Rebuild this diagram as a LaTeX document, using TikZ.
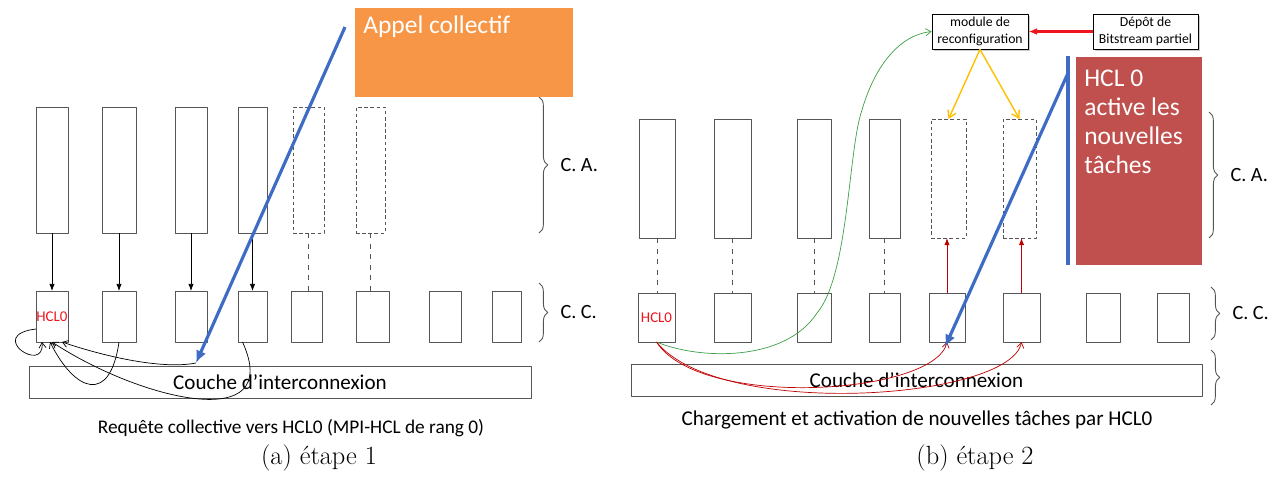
\documentclass[tikz,border=0pt]{standalone}
\usepackage{fontspec}
\newfontfamily\calibri{Carlito}
\usetikzlibrary{arrows.meta,calc,decorations.pathreplacing,shadows}
\definecolor{appelorange}{RGB}{247,150,70}
\definecolor{hclrouge}{RGB}{192,80,77}
\definecolor{bleuappel}{RGB}{62,108,196}
\definecolor{rougevif}{RGB}{240,20,30}
\definecolor{rougefonce}{RGB}{192,0,0}
\definecolor{vertmodule}{RGB}{60,160,70}
\definecolor{jaunefleche}{RGB}{255,192,0}
\definecolor{trait}{RGB}{85,85,85}
\newcommand{\accolade}[5]{%
  % #1 = x of the brace, #2 = top y, #3 = bottom y, #4 = name of the label, #5 = label
  \draw[accol] (#1,#2) -- (#1,#3) node[midway, right=12pt, etiq] (#4) {#5};
}
\tikzset{
  tache/.style={draw=trait, line width=0.5pt, fill=white, inner sep=0pt, outer sep=0pt},
  tachevide/.style={tache, dash pattern=on 2pt off 1.5pt},
  couche/.style={tache, font=\calibri\fontsize{12}{14}\selectfont},
  accol/.style={draw=trait, line width=0.5pt, decorate, decoration={brace, amplitude=5pt}},
  etiq/.style={inner sep=0pt, anchor=west, font=\calibri\fontsize{11.5}{13}\selectfont},
  hcl/.style={text=rougevif, inner sep=0pt, font=\calibri\fontsize{8.5}{10}\selectfont},
  legende/.style={inner sep=0pt, font=\calibri\fontsize{11}{13}\selectfont},
  sousfig/.style={inner sep=0pt, font=\fontsize{15}{17}\selectfont},
  fleche/.style={-{Latex[length=4pt,width=3pt]}, draw=black, line width=0.4pt},
  courbe/.style={-{Straight Barb[length=3pt,width=4pt]}, line width=0.4pt},
  liaison/.style={dashed, line width=0.4pt, draw=trait},
  appel/.style={draw=bleuappel, line width=1.8pt, -{Latex[length=7pt,width=6pt]}},
  petitbloc/.style={draw=black, line width=0.5pt, fill=white, align=center, inner sep=0pt,
    drop shadow={shadow xshift=1pt, shadow yshift=-1pt, opacity=.4},
    font=\calibri\fontsize{7.8}{9.5}\selectfont, minimum height=0.7cm},
}
\begin{document}
\begin{tikzpicture}[x=0.02cm, y=-0.02cm, >=Latex, line join=round]
\useasboundingbox (0,0) rectangle (1287,484);

% ============ (a) ETAPE 1 ============
% application tasks (C. A.), the last two not loaded yet
\foreach \n/\x/\w in {1/52/32, 2/119/34, 3/191/32, 4/252.5/29}
  \node[tache, minimum width=\w*0.02cm, minimum height=2.52cm] (La\n) at (\x,170) {};
\foreach \n/\x/\w in {5/308.5/31, 6/370.5/29}
  \node[tachevide, minimum width=\w*0.02cm, minimum height=2.52cm] (La\n) at (\x,170) {};
% communication cores (C. C.)
\foreach \n/\x/\w in {1/52/32, 2/119/34, 3/191/32, 4/252.5/29, 5/306.5/31, 6/372.5/33, 7/445/32, 8/506.5/29}
  \node[tache, minimum width=\w*0.02cm, minimum height=1.02cm] (Lc\n) at (\x,316.5) {};
\node[hcl] (Lhcl) at (Lc1) {HCL0};

\foreach \n in {1,...,4}
  \draw[fleche] (La\n.south) -- (La\n.south |- Lc\n.north);
\foreach \n in {5,6}
  \draw[liaison] (La\n.south) -- (La\n.south |- Lc\n.north);

\node[couche, minimum width=10.04cm, minimum height=0.64cm] (Lcouche) at (280,382) {Couche d’interconnexion};

\accolade{539}{97}{233}{LcaTxt}{C. A.}
\accolade{539}{283}{342}{LccTxt}{C. C.}

% requests going back to HCL0
\coordinate (Ltip) at (196,363);
\draw[courbe] ($(Lc1.south west)+(0,-13)$) .. controls (-15,335) and (45,375) .. ($(Lc1.south west)+(6,0)$);
\draw[courbe] (Lc2.south) .. controls (110,405) and (75,392) .. ($(Lc1.south)+(-2,0)$);
\draw[courbe] ($(Lc4.south)+(-10,0)$) .. controls (285,435) and (140,400) .. (Lc1.south);
\draw[courbe] (Ltip) .. controls (160,370) and (100,355) .. ($(Lc1.south)+(10,0)$);

% collective call
\node[fill=appelorange, minimum width=4.36cm, minimum height=1.78cm, inner sep=0pt] (appel) at (464,52.5) {};
\node[anchor=base west, text=white, inner sep=0pt, font=\calibri\fontsize{14.5}{17}\selectfont] (appelTxt) at (363,33) {Appel collectif};
\coordinate (LappelPt) at (345,27);
\draw[appel] (LappelPt) -- (Ltip);

\node[legende] (Llegende) at (291,428) {Requête collective vers HCL0 (MPI-HCL de rang 0)};
\node[sousfig] (Lsousfig) at (319,458) {(a) étape 1};

% ============ (b) ETAPE 2 ============
\foreach \n/\x/\w in {1/657/36, 2/732.5/37, 3/814/34, 4/884.5/31}
  \node[tache, minimum width=\w*0.02cm, minimum height=2.38cm] (Ra\n) at (\x,178.5) {};
\foreach \n/\x/\w in {5/948.5/35, 6/1019.5/33}
  \node[tachevide, minimum width=\w*0.02cm, minimum height=2.38cm] (Ra\n) at (\x,178.5) {};
\foreach \n/\x/\w in {1/656.5/37, 2/732.5/37, 3/814/34, 4/884.5/31, 5/947/36, 6/1021.5/37, 7/1103/34, 8/1173/32}
  \node[tache, minimum width=\w*0.02cm, minimum height=0.98cm] (Rc\n) at (\x,317.5) {};
\node[hcl] (Rhcl) at (Rc1) {HCL0};

\foreach \n in {1,...,4}
  \draw[liaison] (Ra\n.south) -- (Ra\n.south |- Rc\n.north);
\foreach \n in {5,6}
  \draw[rougefonce, line width=0.5pt, -{Latex[length=4pt,width=3pt]}] (Rc\n.north) -- (Rc\n.north |- Ra\n.south);

\node[couche, minimum width=11.42cm, minimum height=0.64cm] (Rcouche) at (916.5,380) {Couche d’interconnexion};

\accolade{1209}{112}{238}{RcaTxt}{C. A.}
\accolade{1211}{287}{340}{RccTxt}{C. C.}
\draw[accol] (1211,350) -- (1211,405);

% reconfiguration
\node[petitbloc, minimum width=1.92cm] (module) at (980,31.5) {module de\\reconfiguration};
\node[petitbloc, minimum width=2.1cm] (depot) at (1145.5,31.5) {Dépôt de\\Bitstream partiel};
\draw[rougevif, line width=1.3pt, -{Latex[length=5pt,width=4pt]}] (depot) -- (module);
\foreach \n in {5,6}
  \draw[jaunefleche, line width=0.8pt, -{Straight Barb[length=4pt,width=5pt]}] (module.south) -- (Ra\n.north);

\draw[vertmodule, courbe] (Rc1.south) .. controls (700,360) and (785,362) .. (817,313)
  .. controls (849,275) and (848,150) .. (862,110) .. controls (875,65) and (900,35) .. (module.west);
\draw[rougefonce, courbe] (Rc1.south) .. controls (700,410) and (935,395) .. (Rc5.south);
\draw[rougefonce, courbe] (Rc1.south) .. controls (720,420) and (1010,400) .. (Rc6.south);

% HCL 0 activates the new tasks
\node[fill=hclrouge, minimum width=2.52cm, minimum height=4.16cm, inner sep=0pt] (hclBox) at (1139,161) {};
\node[anchor=north west, text=white, align=left, inner sep=0pt, font=\calibri\fontsize{14.5}{16.5}\selectfont] (hclTxt) at (1084,70) {HCL 0\\active les\\nouvelles\\tâches};
\coordinate (barreHaut) at (1068,56);
\coordinate (barreBas) at (1068,265);
\coordinate (barreDep) at (1068,73);
\coordinate (Rtip) at (945,347);
\draw[bleuappel, line width=1.8pt] (barreHaut) -- (barreBas);
\draw[appel] (barreDep) -- (Rtip);

\node[legende, font=\calibri\fontsize{12}{14}\selectfont] (Rlegende) at (917,420) {Chargement et activation de nouvelles tâches par HCL0};
\node[sousfig] (Rsousfig) at (975,458) {(b) étape 2};
\end{tikzpicture}
\end{document}
